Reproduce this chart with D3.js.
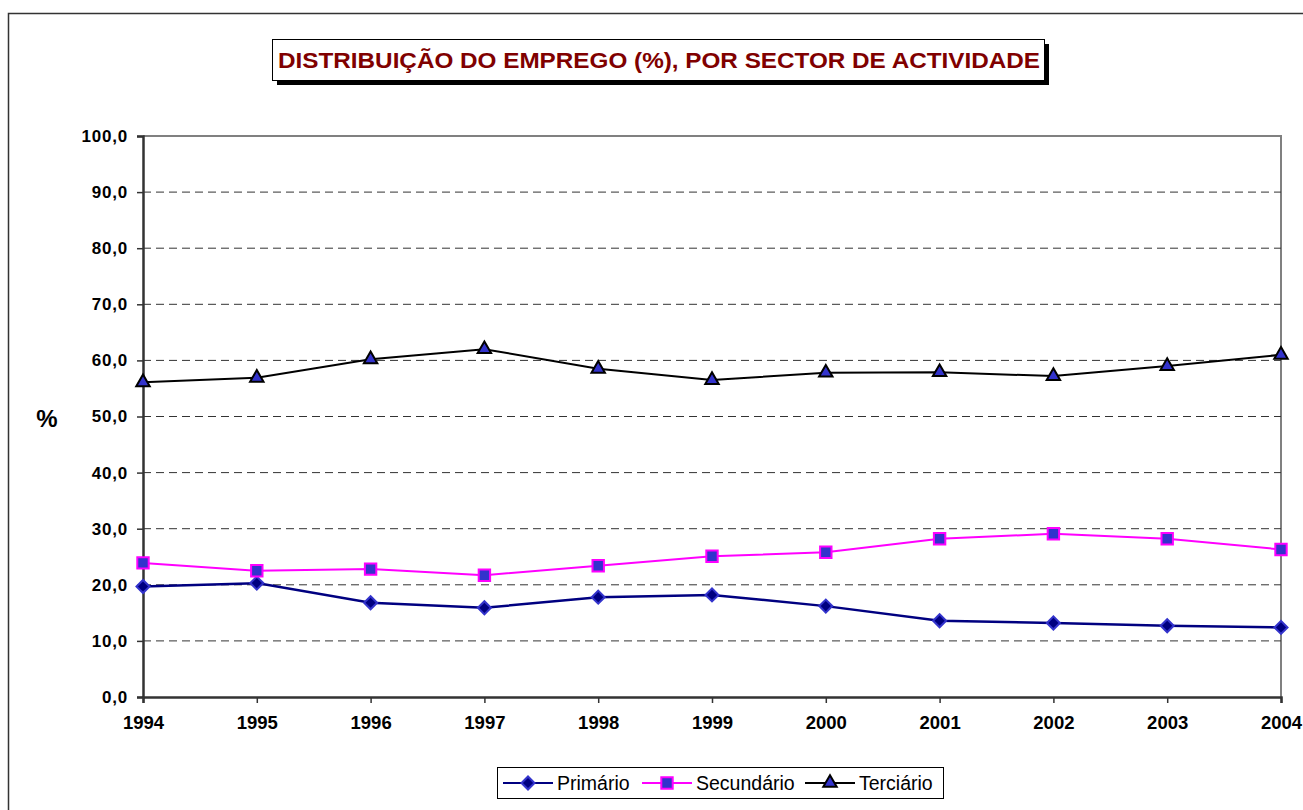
<!DOCTYPE html>
<html>
<head>
<meta charset="utf-8">
<script src="https://cdn.jsdelivr.net/npm/d3@7"></script>
<style>
  body { margin: 0; background: #fff; }
  text { font-family: "Liberation Sans", Arial, sans-serif; }
</style>
</head>
<body>
<script>
let years = [1994, 1995, 1996, 1997, 1998, 1999, 2000, 2001, 2002, 2003, 2004]
let primario = [19.7, 20.3, 16.8, 15.9, 17.8, 18.2, 16.2, 13.6, 13.2, 12.7, 12.4]
let secundario = [23.9, 22.5, 22.8, 21.7, 23.4, 25.1, 25.8, 28.2, 29.1, 28.2, 26.3]
let terciario = [56.1, 56.9, 60.2, 62.0, 58.5, 56.5, 57.8, 57.9, 57.2, 59.0, 61.0]
let yTicks = [0, 10, 20, 30, 40, 50, 60, 70, 80, 90, 100]
let seriesNames = ["Primário", "Secundário", "Terciário"]

let w = 1303
let h = 810
let plotLeft = 143, plotRight = 1281, plotTop = 136, plotBottom = 697

let svg = d3.select("body").append("svg")
  .attr("width", w)
  .attr("height", h)

// outer frame (runs off the page on right/bottom)
svg.append("rect")
  .attr("x", 8.5).attr("y", 13.5)
  .attr("width", 1310).attr("height", 820)
  .attr("fill", "none").attr("stroke", "#333").attr("stroke-width", 1.5)

let xScale = d3.scalePoint().domain(years).range([plotLeft, plotRight])
let yScale = d3.scaleLinear().domain([0, 100]).range([plotBottom, plotTop])

// plot border (top/right grey)
svg.append("path")
  .attr("d", `M${plotLeft},${plotTop}H${plotRight}V${plotBottom}`)
  .attr("fill", "none").attr("stroke", "#808080").attr("stroke-width", 2)

// gridlines
svg.append("g").selectAll("line")
  .data(yTicks.filter(d => d > 0 && d < 100))
  .enter().append("line")
  .attr("x1", plotLeft).attr("x2", plotRight)
  .attr("y1", d => yScale(d)).attr("y2", d => yScale(d))
  .attr("stroke", "#333").attr("stroke-width", 1)
  .attr("stroke-dasharray", "8,5")

// axes
let yAxis = d3.axisLeft(yScale).tickValues(yTicks).tickSize(6).tickPadding(9)
  .tickFormat(d => d3.format(".1f")(d).replace(".", ","))
let gy = svg.append("g").attr("transform", `translate(${plotLeft},0)`).call(yAxis)
let xAxis = d3.axisBottom(xScale).tickSize(6).tickPadding(13)
let gx = svg.append("g").attr("transform", `translate(0,${plotBottom})`).call(xAxis)

for (let g of [gx, gy]) {
  g.select(".domain").attr("stroke", "#333").attr("stroke-width", 2.5)
  g.selectAll(".tick line").attr("stroke", "#333").attr("stroke-width", 1.5)
  g.selectAll(".tick text")
    .attr("fill", "#000")
    .style("font-family", "'Liberation Sans', Arial, sans-serif")
    .style("font-weight", "bold")
}
gy.selectAll(".tick text").style("font-size", "17px").style("letter-spacing", "0.8px")
gx.selectAll(".tick text").style("font-size", "18.5px")

svg.append("text")
  .text("%")
  .attr("x", 47).attr("y", 427)
  .attr("text-anchor", "middle")
  .style("font-size", "24px").style("font-weight", "bold")

let line = d3.line().x((d, i) => xScale(years[i])).y(d => yScale(d))

let styles = [
  { data: primario, line: "#000080", sym: d3.symbolSquare, rot: 45, size: 85, fill: "#000080", stroke: "#3333cc", lw: 2.5 },
  { data: secundario, line: "#ff00ff", sym: d3.symbolSquare, rot: 0, size: 130, fill: "#3333cc", stroke: "#ff00ff", lw: 2 },
  { data: terciario, line: "#000000", sym: d3.symbolTriangle, rot: 0, size: 78, fill: "#3333cc", stroke: "#000000", lw: 2 }
]

styles.forEach(s => {
  svg.append("path")
    .attr("d", line(s.data))
    .attr("fill", "none").attr("stroke", s.line).attr("stroke-width", s.lw)
  svg.append("g").selectAll("path")
    .data(s.data)
    .enter().append("path")
    .attr("d", d3.symbol().type(s.sym).size(s.size))
    .attr("transform", (d, i) => `translate(${xScale(years[i])},${yScale(d)}) rotate(${s.rot})`)
    .attr("fill", s.fill).attr("stroke", s.stroke).attr("stroke-width", 2)
})

// title box with shadow
svg.append("rect").attr("x", 277).attr("y", 44).attr("width", 772).attr("height", 41).attr("fill", "#000")
svg.append("rect").attr("x", 272.5).attr("y", 39.5).attr("width", 772).attr("height", 41)
  .attr("fill", "#fff").attr("stroke", "#000").attr("stroke-width", 1)
svg.append("text")
  .text("DISTRIBUIÇÃO DO EMPREGO (%), POR SECTOR DE ACTIVIDADE")
  .attr("x", 278).attr("y", 68)
  .attr("textLength", 762).attr("lengthAdjust", "spacingAndGlyphs")
  .attr("fill", "#800000")
  .style("font-size", "22px").style("font-weight", "bold")

// legend
let legend = svg.append("g").attr("id", "legend")
legend.append("rect")
  .attr("x", 497.5).attr("y", 767.5).attr("width", 446).attr("height", 31)
  .attr("fill", "#fff").attr("stroke", "#000").attr("stroke-width", 1)
let legX = [503, 642, 805]
styles.forEach((s, i) => {
  let x0 = legX[i], yy = 783
  legend.append("line")
    .attr("x1", x0).attr("x2", x0 + 50).attr("y1", yy).attr("y2", yy)
    .attr("stroke", s.line).attr("stroke-width", 2)
  legend.append("path")
    .attr("d", d3.symbol().type(s.sym).size(s.size))
    .attr("transform", `translate(${x0 + 25},${yy}) rotate(${s.rot})`)
    .attr("fill", s.fill).attr("stroke", s.stroke).attr("stroke-width", 2)
  legend.append("text")
    .text(seriesNames[i])
    .attr("x", x0 + 54).attr("y", yy + 7)
    .style("font-size", "19.5px")
})
</script>
</body>
</html>
